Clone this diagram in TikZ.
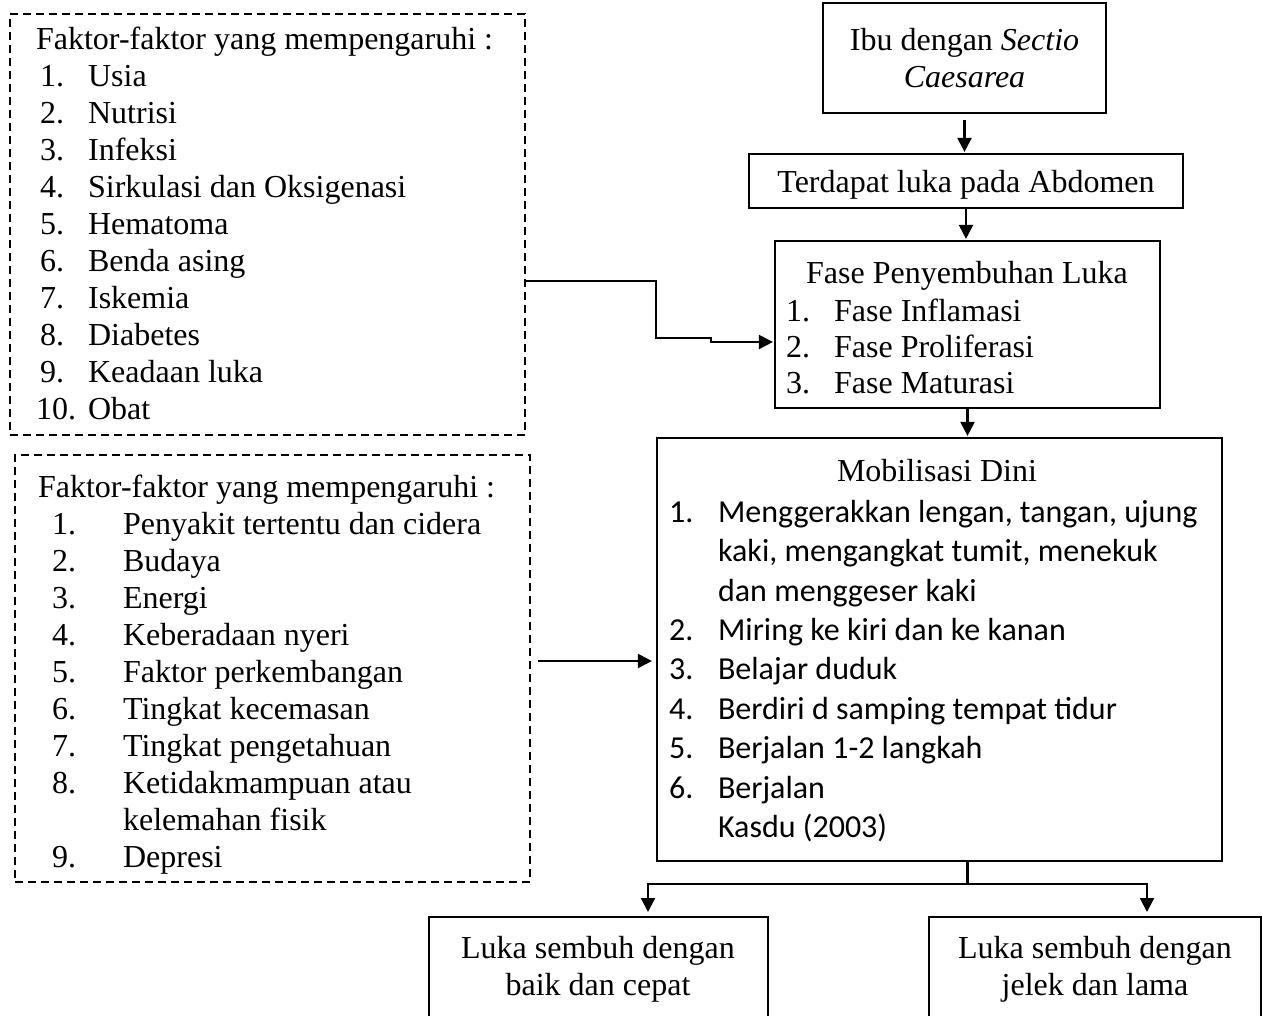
\documentclass[tikz,border=0pt]{standalone}
\usepackage{fontspec}
\setmainfont{Liberation Serif}
\newfontfamily\calibri{Carlito}
\usetikzlibrary{arrows.meta}
\newcommand\nomor[2]{\makebox[#1][l]{#2}}
\begin{document}
\begin{tikzpicture}
[x=1pt, y=-1pt, line width=2.2pt, >={Triangle[length=14pt,width=14pt]},
 box/.style={draw, inner sep=0pt},
 faktor/.style={draw, line width=1.5pt, dash pattern=on 8pt off 5pt, inner sep=0pt},
 teks/.style={inner sep=0pt, align=left, anchor=north west, font=\fontsize{32}{37}\selectfont},
 judul/.style={inner sep=0pt, anchor=base, font=\fontsize{32}{37}\selectfont}]
\useasboundingbox (0,0) rectangle (1263,1015);

% kotak faktor
\node[faktor, minimum width=515, minimum height=421] (fak1) at (267.5,224.5) {};
\node[teks] (daftar1) at (35,26) {Faktor-faktor yang mempengaruhi :\\
  \hspace*{4pt}\nomor{48pt}{1.}Usia\\
  \hspace*{4pt}\nomor{48pt}{2.}Nutrisi\\
  \hspace*{4pt}\nomor{48pt}{3.}Infeksi\\
  \hspace*{4pt}\nomor{48pt}{4.}Sirkulasi dan Oksigenasi\\
  \hspace*{4pt}\nomor{48pt}{5.}Hematoma\\
  \hspace*{4pt}\nomor{48pt}{6.}Benda asing\\
  \hspace*{4pt}\nomor{48pt}{7.}Iskemia\\
  \hspace*{4pt}\nomor{48pt}{8.}Diabetes\\
  \hspace*{4pt}\nomor{48pt}{9.}Keadaan luka\\
  \nomor{52pt}{10.}Obat};
\node[faktor, minimum width=515, minimum height=427] (fak2) at (272.5,668.5) {};
\node[teks] (daftar2) at (37,474) {Faktor-faktor yang mempengaruhi :\\
  \hspace*{14pt}\nomor{71pt}{1.}Penyakit tertentu dan cidera\\
  \hspace*{14pt}\nomor{71pt}{2.}Budaya\\
  \hspace*{14pt}\nomor{71pt}{3.}Energi\\
  \hspace*{14pt}\nomor{71pt}{4.}Keberadaan nyeri\\
  \hspace*{14pt}\nomor{71pt}{5.}Faktor perkembangan\\
  \hspace*{14pt}\nomor{71pt}{6.}Tingkat kecemasan\\
  \hspace*{14pt}\nomor{71pt}{7.}Tingkat pengetahuan\\
  \hspace*{14pt}\nomor{71pt}{8.}Ketidakmampuan atau\\
  \hspace*{85pt}kelemahan fisik\\
  \hspace*{14pt}\nomor{71pt}{9.}Depresi};

% alur utama
\node[box, minimum width=283, minimum height=110, align=center,
  font=\fontsize{32}{37}\selectfont] (ibu) at (964.5,58)
  {Ibu dengan \textit{Sectio}\\\textit{Caesarea}};
\node[box, minimum width=434, minimum height=54, text depth=0pt,
  font=\fontsize{32}{37}\selectfont] (luka) at (966,181) {Terdapat luka pada Abdomen};
\node[box, minimum width=385, minimum height=167] (fase) at (967.5,324.5) {};
\node[judul] (fasejudul) at (967,283) {Fase Penyembuhan Luka};
\node[teks, font=\fontsize{32}{36}\selectfont] (fasedaftar) at (785,298) {%
  \nomor{48pt}{1.}Fase Inflamasi\\
  \nomor{48pt}{2.}Fase Proliferasi\\
  \nomor{48pt}{3.}Fase Maturasi};
\node[box, minimum width=565, minimum height=423] (mob) at (939.5,649.5) {};
\node[judul] (mobjudul) at (937,481) {Mobilisasi Dini};
\node[teks, font=\calibri\fontsize{32}{39.4}\selectfont] (mobdaftar) at (668,499) {%
  \nomor{49pt}{1.}Menggerakkan lengan, tangan, ujung\\
  \hspace*{49pt}kaki, mengangkat tumit, menekuk\\
  \hspace*{49pt}dan menggeser kaki\\
  \nomor{49pt}{2.}Miring ke kiri dan ke kanan\\
  \nomor{49pt}{3.}Belajar duduk\\
  \nomor{49pt}{4.}Berdiri d samping tempat tidur\\
  \nomor{49pt}{5.}Berjalan 1-2 langkah\\
  \nomor{49pt}{6.}Berjalan\\
  \hspace*{49pt}Kasdu (2003)};

% hasil
\node[minimum width=337, minimum height=98, anchor=north, inner sep=0pt] (baik) at (598.5,917) {};
\node[judul, align=center] (baikteks) at (598,995) {Luka sembuh dengan\\baik dan cepat};
\node[minimum width=330, minimum height=98, anchor=north, inner sep=0pt] (jelek) at (1095,917) {};
\node[judul, align=center] (jelekteks) at (1095,995) {Luka sembuh dengan\\jelek dan lama};
\draw (baik.south west) |- (baik.north east) -- (baik.south east);
\draw (jelek.south west) |- (jelek.north east) -- (jelek.south east);

% panah
\draw[->, shorten <=6pt, shorten >=1pt] (ibu.south) -- (ibu.south |- luka.north);
\draw[->, shorten >=1pt] (luka.south) -- (luka.south |- fase.north);
\draw[->, shorten >=1pt] (fase.south) -- (fase.south |- mob.north);
\draw[->, shorten >=1pt] ([yshift=-56.5pt]fak1.east) -| ++(130,57) -- ++(55,0)
  |- ([yshift=-17.5pt]fase.west);
\draw[->, shorten <=7pt, shorten >=4pt] ([yshift=7.5pt]fak2.east) -- ([yshift=7.5pt]fak2.east -| mob.west);
\draw (fase.south |- mob.south) -- ++(0,22) coordinate (cabang);
\draw[->, shorten >=5pt] (cabang) -| ([xshift=49.5pt]baik.north);
\draw[->, shorten >=5pt] (cabang) -| ([xshift=52pt]jelek.north);
\end{tikzpicture}
\end{document}
